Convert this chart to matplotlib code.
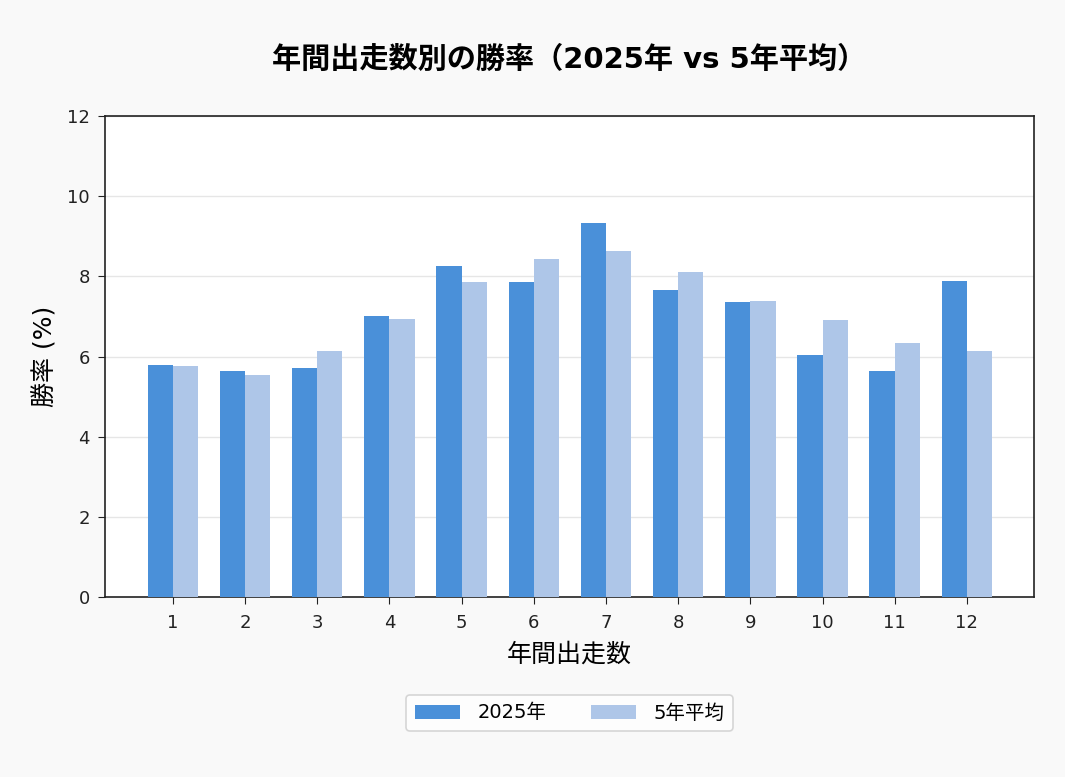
import matplotlib
matplotlib.use("Agg")
import matplotlib.pyplot as plt
import numpy as np

plt.rcParams['font.family'] = ['DejaVu Sans', 'Noto Sans CJK JP']

categories = ['1', '2', '3', '4', '5', '6', '7', '8', '9', '10', '11', '12']
win_2025 = [5.79, 5.64, 5.71, 7.00, 8.27, 7.85, 9.32, 7.65, 7.35, 6.03, 5.64, 7.88]
win_5yr = [5.76, 5.54, 6.13, 6.93, 7.85, 8.42, 8.62, 8.10, 7.38, 6.91, 6.33, 6.13]

fig = plt.figure(figsize=(10.65, 7.77), dpi=100)
fig.patch.set_facecolor('#f9f9f9')
ax = fig.add_axes([105/1065, 1-597/777, (1034-105)/1065, (597-116)/777])
ax.set_facecolor('white')

x = np.arange(len(categories))
w = 0.35
ax.bar(x - w/2, win_2025, w, color='#4a90d9', label='2025年', zorder=3)
ax.bar(x + w/2, win_5yr, w, color='#aec6e8', label='5年平均', zorder=3)

ax.set_xlim(-0.94, 11.93)
ax.set_ylim(0, 12)
ax.set_yticks(range(0, 13, 2))
ax.set_xticks(x)
ax.set_xticklabels(categories)
ax.tick_params(labelsize=13, length=5, pad=6, colors='#222222')
ax.tick_params(axis='x', pad=7)
ax.yaxis.grid(True, color='#e6e6e6', linewidth=1, zorder=0)
ax.set_axisbelow(True)
for s in ax.spines.values():
    s.set_color('#222222')
    s.set_linewidth(1.2)

ax.set_xlabel('年間出走数', fontsize=18, labelpad=8)
ax.set_ylabel('勝率 (%)', fontsize=18, labelpad=7)
ax.text(0.5, 1 + (116-60)/(597-116), '年間出走数別の勝率（2025年 vs 5年平均）',
        transform=ax.transAxes, ha='center', va='center',
        fontsize=21, fontweight='bold')

leg = ax.legend(loc='center', bbox_to_anchor=(0.5, 1-(713-116)/(597-116)), ncol=2, fontsize=14,
                frameon=True, fancybox=True, handlelength=2.3, handleheight=0.75,
                handletextpad=0.9, columnspacing=2.3, borderpad=0.45)
leg.get_frame().set_edgecolor('#cccccc')
leg.get_frame().set_linewidth(1.2)

fig.savefig('out.png', dpi=100, facecolor=fig.get_facecolor())
